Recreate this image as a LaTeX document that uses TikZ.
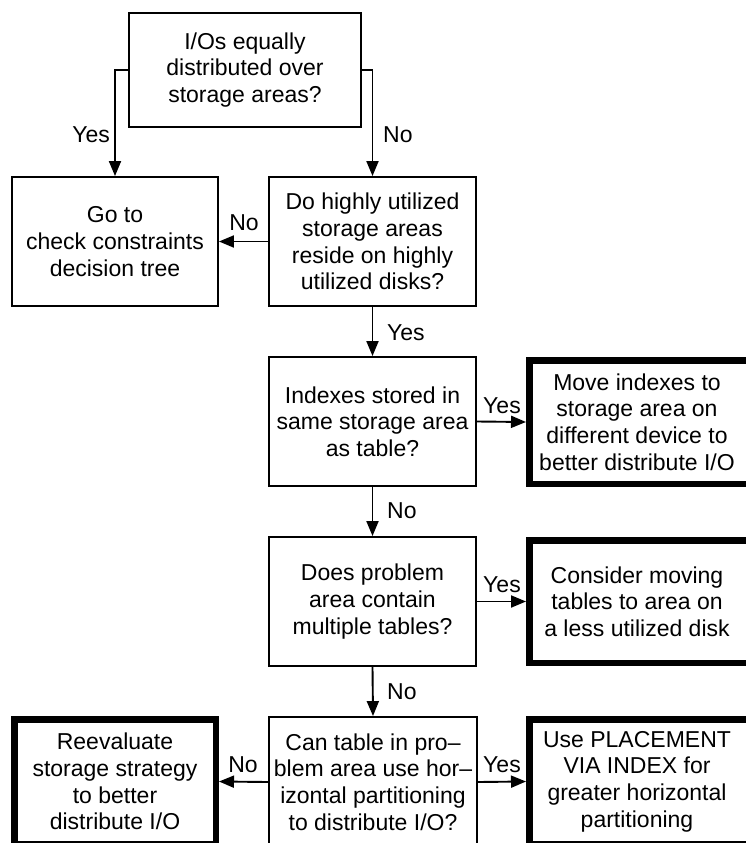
\documentclass[tikz,border=0pt]{standalone}
\usepackage{fontspec}
\setmainfont{Liberation Sans}
\usetikzlibrary{arrows.meta}
\begin{document}
\begin{tikzpicture}[x=1pt,y=-1pt,
  every node/.style={font=\fontsize{23}{26.6}\selectfont},
  qbox/.style={draw, rectangle, line width=1.9pt, align=center, inner sep=0pt},
  endbox/.style={draw, rectangle, line width=6.5pt, align=center, inner sep=0pt},
  arr/.style={line width=1.9pt, -{Triangle[length=15pt,width=12pt]}},
  lbl/.style={inner sep=0pt}]
  \useasboundingbox (0,0) rectangle (746,843);
  \clip (0,0) rectangle (746,843);
  \fill[white] (0,0) rectangle (746,843);

  % decision boxes
  \node[qbox, minimum width=232pt, minimum height=114pt] (top) at (245,70)
    {I/Os equally\\distributed over\\storage areas?};
  \node[qbox, minimum width=206pt, minimum height=129pt] (goto) at (115,241.5)
    {Go to\\check constraints\\decision tree};
  \node[qbox, minimum width=207pt, minimum height=129pt] (hot) at (372.5,241.5)
    {Do highly utilized\\storage areas\\reside on highly\\utilized disks?};
  \node[qbox, minimum width=207pt, minimum height=129pt] (idx) at (372.5,421.5)
    {Indexes stored in\\same storage area\\as table?};
  \node[qbox, minimum width=207pt, minimum height=129pt] (multi) at (372.5,601.5)
    {Does problem\\area contain\\multiple tables?};
  \node[qbox, minimum width=208pt, minimum height=130pt] (part) at (373,782)
    {Can table in pro–\\blem area use hor–\\izontal partitioning\\to distribute I/O?};

  % outcome boxes
  \node[endbox, minimum width=219.5pt, minimum height=123.5pt] (move) at (639,422)
    {\hspace*{-4pt}Move indexes to\\\hspace*{-4pt}storage area on\\\hspace*{-4pt}different device to\\\hspace*{-4pt}better distribute I/O};
  \node[endbox, minimum width=219.5pt, minimum height=122.5pt] (consider) at (639,601.5)
    {\hspace*{-4pt}Consider moving\\\hspace*{-4pt}tables to area on\\\hspace*{-4pt}a less utilized disk};
  \node[endbox, minimum width=201.5pt, minimum height=124.5pt] (reeval) at (115,781.5)
    {Reevaluate\\storage strategy\\to better\\distribute I/O};
  \node[endbox, minimum width=219.5pt, minimum height=124.5pt] (use) at (639,781.5)
    {\hspace*{-4pt}Use PLACEMENT\\\hspace*{-4pt}VIA INDEX for\\\hspace*{-4pt}greater horizontal\\\hspace*{-4pt}partitioning};

  % connectors
  \draw[arr] (top.west) -| (goto.north);
  \draw[arr] (top.east) -| (hot.north);
  \draw[arr] (hot.west) -- (goto.east);
  \draw[arr] (hot.south) -- (idx.north);
  \draw[arr] (idx.east) -- (move.west);
  \draw[arr] (idx.south) -- (multi.north);
  \draw[arr] (multi.east) -- (consider.west);
  \draw[arr] (multi.south) -- (part.north);
  \draw[arr] (part.west) -- (reeval.east);
  \draw[arr] (part.east) -- (use.west);

  % branch labels
  \node[lbl, anchor=east] (l1) at (110,135) {Yes};
  \node[lbl, anchor=west] (l2) at (383,135) {No};
  \node[lbl] (l3) at (244,223) {No};
  \node[lbl, anchor=west] (l4) at (387,333) {Yes};
  \node[lbl] (l5) at (502,406) {Yes};
  \node[lbl, anchor=west] (l6) at (387,511) {No};
  \node[lbl] (l7) at (502,585) {Yes};
  \node[lbl, anchor=west] (l8) at (387,692) {No};
  \node[lbl] (l9) at (243,765) {No};
  \node[lbl] (l10) at (502,765) {Yes};
\end{tikzpicture}
\end{document}
